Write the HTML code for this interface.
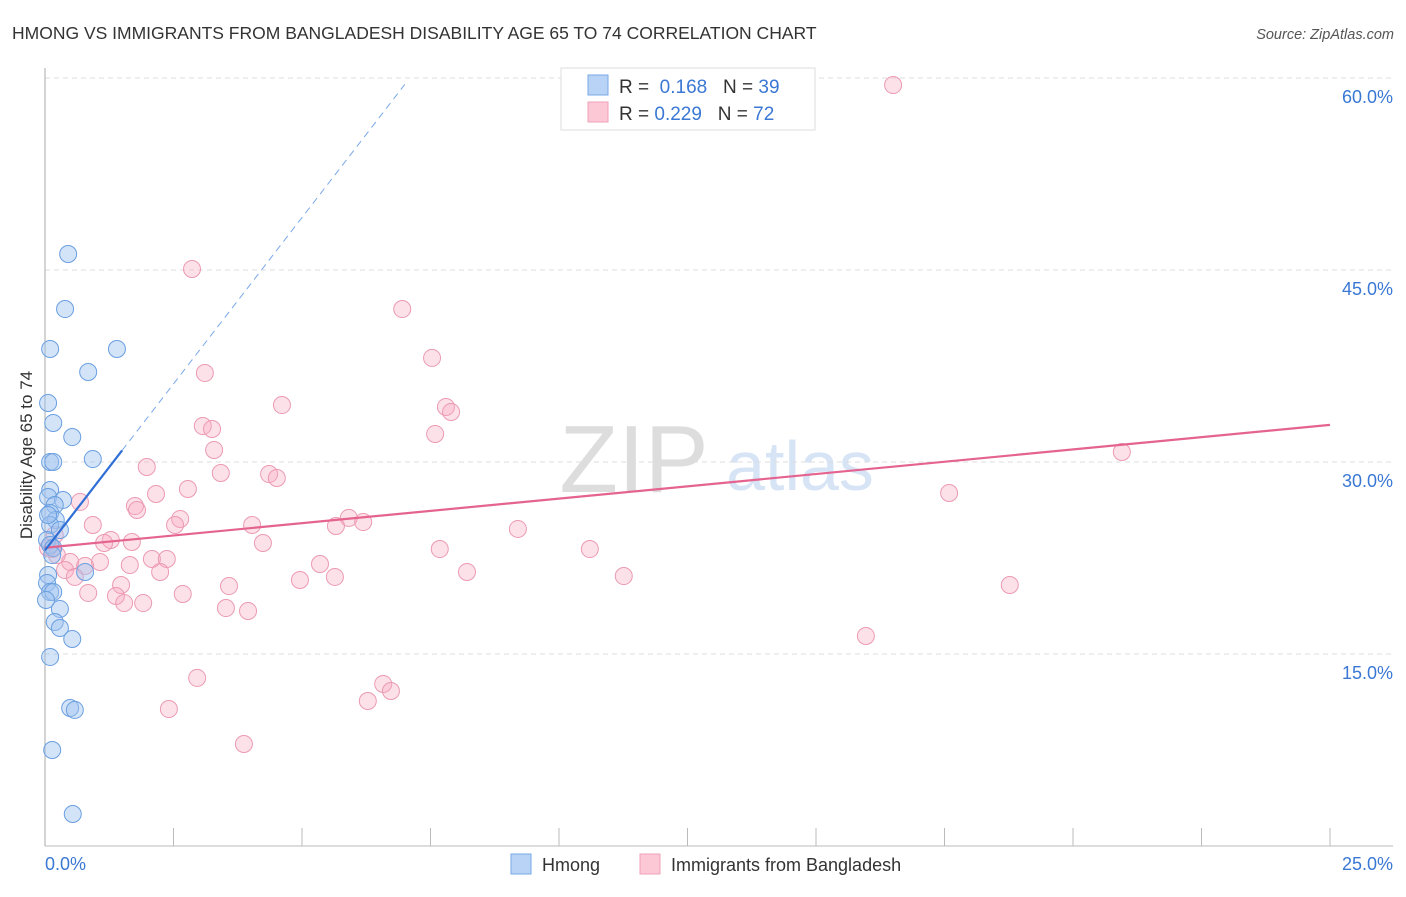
<!DOCTYPE html>
<html><head><meta charset="utf-8"><style>
body{margin:0;background:#fff;font-family:"Liberation Sans",sans-serif}
svg text{font-family:"Liberation Sans",sans-serif}
</style></head><body>
<svg id="c" width="1406" height="892" xmlns="http://www.w3.org/2000/svg">
<text x="12" y="39" font-size="17.5" fill="#333">HMONG VS IMMIGRANTS FROM BANGLADESH DISABILITY AGE 65 TO 74 CORRELATION CHART</text>
<text x="1394" y="39" font-size="14.5" fill="#555" font-style="italic" text-anchor="end">Source: ZipAtlas.com</text>
<text x="634" y="492" font-size="96" fill="#ddd" font-family="Liberation Serif" text-anchor="middle">ZIP</text>
<text x="800" y="490" font-size="70" fill="#d6e4f5" text-anchor="middle">atlas</text>
<g id="grid"></g>
<line x1="45" y1="68" x2="45" y2="846" stroke="#aaa"/>
<line x1="45" y1="846" x2="1393" y2="846" stroke="#bbb"/>
<text x="32" y="455" font-size="17" fill="#333" text-anchor="middle" transform="rotate(-90 32 455)">Disability Age 65 to 74</text>
<text x="45" y="870" font-size="18" fill="#3a78d4">0.0%</text>
<text x="1393" y="870" font-size="18" fill="#3a78d4" text-anchor="end">25.0%</text>
<g id="marks"></g>
<g>
<rect x="561" y="68" width="254" height="62" fill="#fff" stroke="#ddd"/>
<rect x="588" y="75" width="20" height="20" fill="#b8d3f5" stroke="#7aa8e8"/>
<rect x="588" y="102" width="20" height="20" fill="#fcc8d6" stroke="#f0a0b8"/>
<text x="619" y="93" font-size="19" fill="#333">R = <tspan fill="#3a78d4">&#160;0.168</tspan>&#160;&#160;&#160;N = <tspan fill="#3a78d4">39</tspan></text>
<text x="619" y="120" font-size="19" fill="#333">R = <tspan fill="#3a78d4">0.229</tspan>&#160;&#160;&#160;N = <tspan fill="#3a78d4">72</tspan></text>
</g>
<g>
<rect x="511" y="854" width="20" height="20" fill="#b8d3f5" stroke="#7aa8e8"/>
<text x="542" y="871" font-size="18" fill="#333">Hmong</text>
<rect x="640" y="854" width="20" height="20" fill="#fcc8d6" stroke="#f0a0b8"/>
<text x="671" y="871" font-size="18" fill="#333">Immigrants from Bangladesh</text>
</g>
</svg>
<script>
const yTicks=[15,30,45,60];
const xTicks=[0,2.5,5,7.5,10,12.5,15,17.5,20,22.5,25];
const hmongX=[0.45,0.39,0.10,1.40,0.84,0.06,0.16,0.53,0.10,0.16,0.93,0.10,0.06,0.35,0.19,0.10,0.21,0.10,0.04,0.10,0.16,0.78,0.06,0.04,0.10,0.16,0.29,0.19,0.29,0.53,0.10,0.49,0.58,0.14,0.54,0.06,0.29,0.14,0.02];
const hmongY=[46.25,41.95,38.83,38.83,37.03,34.61,33.05,31.95,30.0,30.0,30.23,27.81,27.27,27.03,26.64,26.02,25.47,25.08,23.91,23.52,23.28,21.41,21.17,20.55,19.84,19.84,18.52,17.5,17.03,16.17,14.77,10.78,10.63,7.5,2.5,25.86,24.69,22.73,19.22];
const bangX=[16.50,2.86,6.95,7.53,3.11,7.80,7.90,4.61,7.59,3.07,3.25,3.29,1.98,4.36,3.42,4.51,20.95,2.78,2.16,17.59,0.68,1.75,1.79,2.63,2.53,5.91,6.19,0.93,4.03,5.66,9.20,4.24,1.28,1.15,1.69,10.60,7.68,0.14,0.23,2.08,2.37,1.07,0.49,5.35,1.65,0.78,0.39,2.24,8.21,0.58,5.64,11.26,4.96,1.48,3.58,18.77,1.38,2.68,0.84,1.54,1.91,3.52,3.95,15.97,2.96,6.58,6.73,6.28,2.41,3.87,0.19,0.06];
const bangY=[59.45,45.08,41.95,38.13,36.95,34.30,33.91,34.45,32.19,32.81,32.58,30.94,29.61,29.06,29.14,28.75,30.78,27.89,27.5,27.58,26.88,26.56,26.25,25.55,25.08,25.63,25.31,25.08,25.08,25.0,24.77,23.67,23.91,23.67,23.75,23.20,23.20,23.20,22.73,22.42,22.42,22.19,22.19,22.03,21.95,21.88,21.56,21.41,21.41,21.02,21.02,21.09,20.78,20.39,20.31,20.39,19.53,19.69,19.77,18.98,18.98,18.59,18.36,16.41,13.13,12.66,12.11,11.33,10.70,7.97,24.30,23.28];
const hmongTrend=[23.1,5.2];
const bangTrend=[23.3,0.384];
const NS='http://www.w3.org/2000/svg';
const X=v=>45+v/25*1285, Y=v=>846-v/15*192;
function mk(t,a,p){const e=document.createElementNS(NS,t);for(const k in a)e.setAttribute(k,a[k]);p.appendChild(e);return e;}
const grid=document.getElementById('grid'), marks=document.getElementById('marks');
yTicks.forEach(t=>{
 const l=mk('line',{x1:45,x2:1393,y1:Y(t),y2:Y(t),stroke:'#ddd','stroke-dasharray':'5,4'},grid);
 
 
 const tx=mk('text',{x:1393,y:Y(t)+25,'font-size':18,fill:'#3a78d4','text-anchor':'end'},grid);
 tx.textContent=t.toFixed(1)+'%';
 
 
});
xTicks.slice(1).forEach(t=>{
 const l=mk('line',{x1:X(t),x2:X(t),y1:828,y2:846,stroke:'#bbb'},grid);
 
 
});
bangX.forEach((x,i)=>{
 const c=mk('circle',{cx:X(x),cy:Y(bangY[i]),r:8.5,fill:'rgba(248,170,192,0.35)',stroke:'#eb9ab2','stroke-width':1},marks);
 
 
});
hmongX.forEach((x,i)=>{
 const c=mk('circle',{cx:X(x),cy:Y(hmongY[i]),r:8.5,fill:'rgba(160,196,240,0.45)',stroke:'#6a9fe0','stroke-width':1},marks);
 
 
});
let l=mk('line',{x1:X(0),y1:Y(bangTrend[0]),x2:X(25),y2:Y(bangTrend[0]+25*bangTrend[1]),stroke:'#e4638f','stroke-width':2.2},marks);


l=mk('line',{x1:X(1.5),y1:Y(hmongTrend[0]+1.5*hmongTrend[1]),x2:X(7),y2:Y(hmongTrend[0]+7*hmongTrend[1]),stroke:'#7aa8e8','stroke-width':1,'stroke-dasharray':'7,5'},marks);


l=mk('line',{x1:X(0),y1:Y(hmongTrend[0]),x2:X(1.5),y2:Y(hmongTrend[0]+1.5*hmongTrend[1]),stroke:'#2f6fd6','stroke-width':2.2},marks);


</script>
</body></html>
